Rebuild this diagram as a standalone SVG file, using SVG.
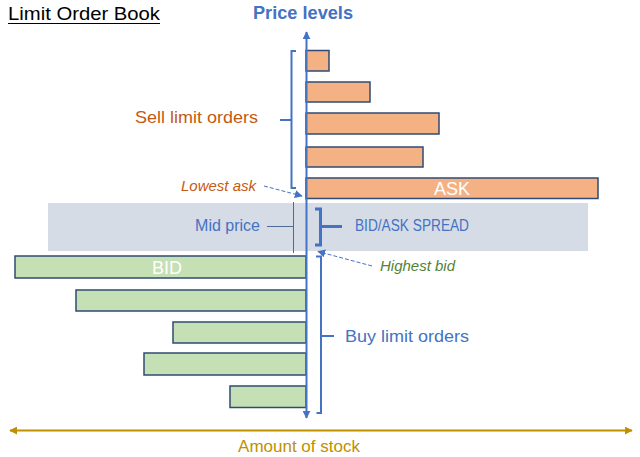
<svg xmlns="http://www.w3.org/2000/svg" width="640" height="457" viewBox="0 0 640 457">
<defs>
<style>
text{font-family:"Liberation Sans",Arial,sans-serif}
.ask{fill:#F4B183;stroke:#2F4B73;stroke-width:1.5}
.bid{fill:#C5E0B4;stroke:#2F4B73;stroke-width:1.5}
.blue{fill:#4472C4}
.br{fill:none;stroke:#4472C4;stroke-width:2}
.dash{fill:none;stroke:#4472C4;stroke-width:1;stroke-dasharray:4 2}
</style>
<marker id="ab" viewBox="0 0 10 10" refX="9" refY="5" markerWidth="4" markerHeight="4" orient="auto-start-reverse"><path d="M0,0L10,5L0,10z" fill="#4472C4"/></marker>
<marker id="ag" viewBox="0 0 10 10" refX="9" refY="5" markerWidth="4" markerHeight="4" orient="auto-start-reverse"><path d="M0,0L10,5L0,10z" fill="#BF9000"/></marker>
<marker id="ad" viewBox="0 0 10 10" refX="9" refY="5" markerWidth="8" markerHeight="8" orient="auto"><path d="M0,0L10,5L0,10z" fill="#4472C4"/></marker>
</defs>
<rect width="640" height="457" fill="#fff"/>
<g id="title">
<text x="8" y="20" font-size="18" fill="#000" textLength="152" lengthAdjust="spacingAndGlyphs">Limit Order Book</text>
<line x1="8" y1="23.5" x2="160" y2="23.5" stroke="#000" stroke-width="1.2"/>
</g>
<g id="spread-band"><rect x="48" y="203" width="540" height="48" fill="#D6DCE5"/></g>
<g id="ask-orders">
<rect class="ask" x="306" y="50.5" width="23" height="20.5"/>
<rect class="ask" x="306" y="82" width="64" height="20"/>
<rect class="ask" x="306" y="113" width="133" height="21"/>
<rect class="ask" x="306" y="147" width="117" height="20"/>
<rect class="ask" x="306" y="178" width="292" height="20.5"/>
<text x="452" y="195" font-size="18" fill="#fff" text-anchor="middle">ASK</text>
</g>
<g id="bid-orders">
<rect class="bid" x="15" y="256" width="291" height="22"/>
<text x="167" y="274" font-size="18" fill="#fff" text-anchor="middle">BID</text>
<rect class="bid" x="76" y="290" width="230" height="21"/>
<rect class="bid" x="173" y="322" width="133" height="21"/>
<rect class="bid" x="144" y="353" width="162" height="22"/>
<rect class="bid" x="230" y="386" width="76" height="21.5"/>
</g>
<g id="connectors">
<line x1="306.5" y1="418" x2="306.5" y2="32" stroke="#4472C4" stroke-width="2" marker-start="url(#ab)" marker-end="url(#ab)"/>
<line x1="10" y1="430.5" x2="632" y2="430.5" stroke="#BF9000" stroke-width="2" marker-start="url(#ag)" marker-end="url(#ag)"/>
<path class="br" d="M296,51 H291.5 V188 H296 M291.5,120 H280"/>
<path class="br" d="M316,256.5 H321 V413 H316.5 M321,336 H334"/>
<path fill="none" stroke="#4472C4" stroke-width="3" d="M315,209 H320.5 V245 H315 M320.5,226.5 H342"/>
<line x1="293.5" y1="202" x2="293.5" y2="253" stroke="#4F6A95" stroke-width="1"/>
<line x1="267" y1="226.5" x2="293" y2="226.5" stroke="#4F6A95" stroke-width="1"/>
<line class="dash" x1="264" y1="186" x2="302" y2="196" marker-end="url(#ad)"/>
<line class="dash" x1="372" y1="266" x2="318" y2="251.5" marker-end="url(#ad)"/>
</g>
<g id="labels">
<text x="303" y="19" font-size="18" font-weight="bold" class="blue" text-anchor="middle" textLength="100" lengthAdjust="spacingAndGlyphs">Price levels</text>
<text x="135" y="123" font-size="17" fill="#C55A11" textLength="123" lengthAdjust="spacingAndGlyphs">Sell limit orders</text>
<text x="256" y="191" font-size="15" font-style="italic" fill="#C55A11" text-anchor="end">Lowest ask</text>
<text x="260" y="231" font-size="16" class="blue" text-anchor="end">Mid price</text>
<text x="355" y="231" font-size="16" class="blue" textLength="114" lengthAdjust="spacingAndGlyphs">BID/ASK SPREAD</text>
<text x="380" y="271" font-size="15" font-style="italic" fill="#548235">Highest bid</text>
<text x="345" y="342" font-size="17" class="blue" textLength="124" lengthAdjust="spacingAndGlyphs">Buy limit orders</text>
<text x="299" y="452" font-size="17" fill="#BF9000" text-anchor="middle">Amount of stock</text>
</g>
</svg>
